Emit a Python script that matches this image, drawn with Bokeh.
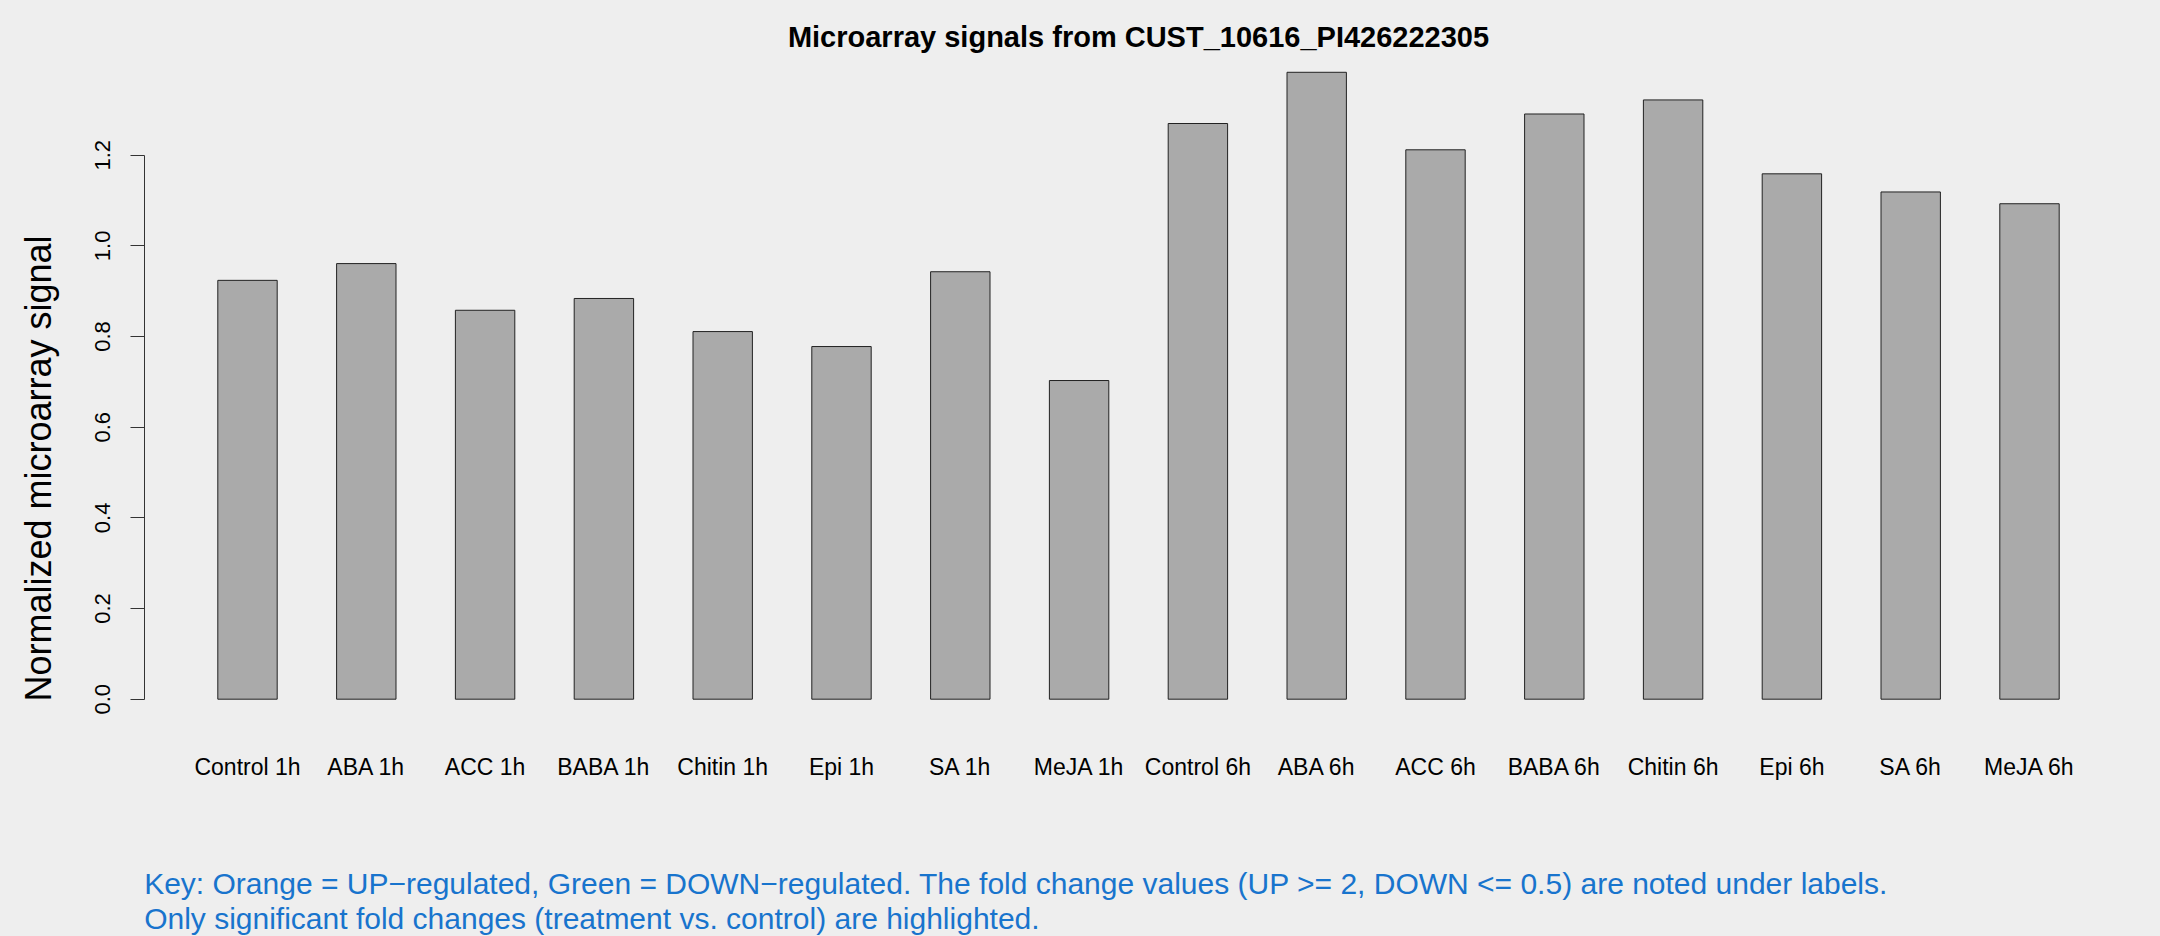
from bokeh.plotting import figure
from bokeh.models import Range1d, FixedTicker, Label
from bokeh.embed import file_html
from bokeh.resources import INLINE
from bokeh.core.properties import value

# ---------------- data ----------------
categories = ["Control 1h", "ABA 1h", "ACC 1h", "BABA 1h", "Chitin 1h", "Epi 1h", "SA 1h", "MeJA 1h",
              "Control 6h", "ABA 6h", "ACC 6h", "BABA 6h", "Chitin 6h", "Epi 6h", "SA 6h", "MeJA 6h"]
signals = [0.924, 0.961, 0.858, 0.884, 0.811, 0.778, 0.943, 0.703,
           1.270, 1.383, 1.212, 1.291, 1.322, 1.159, 1.119, 1.093]
y_ticks = [0.0, 0.2, 0.4, 0.6, 0.8, 1.0, 1.2]
y_tick_labels = ["0.0", "0.2", "0.4", "0.6", "0.8", "1.0", "1.2"]
title_text = "Microarray signals from CUST_10616_PI426222305"
y_label = "Normalized microarray signal"
key_lines = ["Key: Orange = UP\u2212regulated, Green = DOWN\u2212regulated. The fold change values (UP >= 2, DOWN <= 0.5) are noted under labels.",
             "Only significant fold changes (treatment vs. control) are highlighted."]

# ---------------- layout (R barplot style: width 1, space 1) ----------------
FONT = "Liberation Sans"
BG = "#eeeeee"
W, H = 2160, 936
LEFT = 144                 # px left of the plotting area (y axis lives there)
X1_PX, XPU = 217.3, 59.4   # px of x=1 (first bar's left edge), px per x unit
Y0_PX, YPU = 698.7, 453.3  # px of y=0, px per y unit

def xd(px):
    return 1 + (px - X1_PX) / XPU

def yd(px):
    return (Y0_PX - px) / YPU

n = len(categories)
lefts = [1 + 2 * i for i in range(n)]
centers = [l + 0.5 for l in lefts]
x_lo, x_hi = lefts[0], lefts[-1] + 1
x_ext = 0.04 * (x_hi - x_lo)

p = figure(width=W, height=H, output_backend="svg", toolbar_location=None,
           x_axis_location=None,
           x_range=Range1d(xd(LEFT), xd(W)),
           y_range=Range1d(yd(H), yd(0)),
           min_border_left=LEFT, min_border_right=0, min_border_top=0, min_border_bottom=0)
try:
    p.title = None
except Exception:
    p.title.text = ""
    p.title.visible = False
p.background_fill_color = BG
p.border_fill_color = BG
p.outline_line_color = None
p.xgrid.visible = False
p.ygrid.visible = False

# bars
p.vbar(x=centers, top=signals, bottom=0, width=1.0,
       fill_color="#aaaaaa", line_color="#222222", line_width=1)

# y axis
ya = p.yaxis[0]
ya.ticker = FixedTicker(ticks=y_ticks)
ya.major_label_overrides = {t: s for t, s in zip(y_ticks, y_tick_labels)}
ya.bounds = (y_ticks[0], y_ticks[-1])
ya.axis_line_color = "#333333"
ya.major_tick_line_color = "#333333"
ya.major_tick_out = 14
ya.major_tick_in = 0
ya.minor_tick_line_color = None
ya.major_label_orientation = "vertical"
ya.major_label_text_font = FONT
ya.major_label_text_font_size = "22px"
ya.major_label_text_color = "black"
ya.major_label_standoff = 20
ya.axis_label = y_label
ya.axis_label_text_font = FONT
ya.axis_label_text_font_size = "36px"
ya.axis_label_text_font_style = "normal"
ya.axis_label_text_color = "black"
ya.axis_label_standoff = 34

# category names under the bars
p.text(x=centers, y=[yd(766.5)] * n, text=categories,
       text_align="center", text_baseline="middle",
       text_font=value(FONT), text_font_size=value("23px"), text_color="black")

# title
p.add_layout(Label(x=(x_lo + x_hi) / 2, y=yd(36.5), text=title_text,
                   text_align="center", text_baseline="middle",
                   text_font=FONT, text_font_size="29px", text_font_style="bold",
                   text_color="black"))

# key text
for txt, ypx in zip(key_lines, [883, 917.5]):
    p.add_layout(Label(x=x_lo - x_ext, y=yd(ypx), text=txt,
                       text_align="left", text_baseline="middle",
                       text_font=FONT, text_font_size="30px",
                       text_color="#1874CD"))

html = file_html(p, INLINE)
html = html.replace("</head>", "<style>html, body { background-color: #eeeeee; }</style>\n</head>", 1)
open("out.html", "w").write(html)
